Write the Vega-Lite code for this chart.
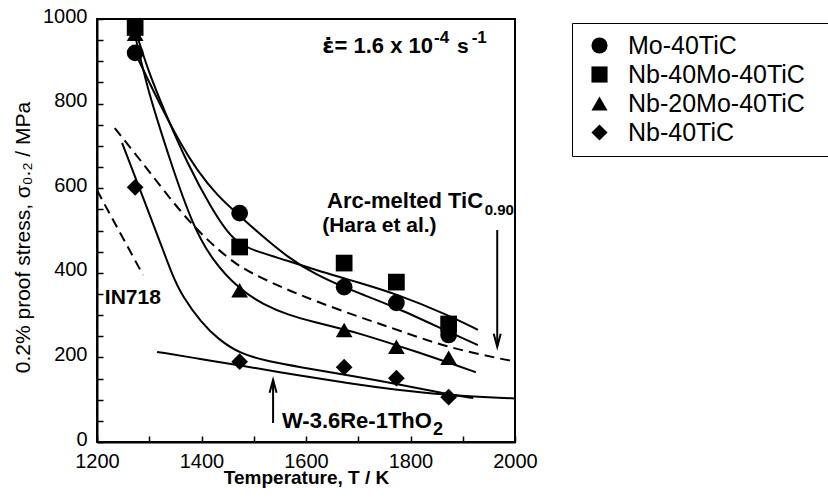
{
  "$schema": "https://vega.github.io/schema/vega-lite/v6.json",
  "autosize": {"type": "none"},
  "padding": {"left": 97, "top": 19, "right": 313, "bottom": 58},
  "width": 418,
  "height": 423,
  "background": "white",
  "config": {
    "font": "Liberation Sans",
    "view": {"stroke": "black", "strokeWidth": 2}
  },
  "datasets": {
    "points": [
      {"series": "Mo-40TiC", "x": 1273, "y": 920},
      {"series": "Mo-40TiC", "x": 1473, "y": 541},
      {"series": "Mo-40TiC", "x": 1673, "y": 366},
      {"series": "Mo-40TiC", "x": 1773, "y": 329},
      {"series": "Mo-40TiC", "x": 1873, "y": 253},
      {"series": "Nb-20Mo-40TiC", "x": 1273, "y": 965},
      {"series": "Nb-20Mo-40TiC", "x": 1473, "y": 359},
      {"series": "Nb-20Mo-40TiC", "x": 1673, "y": 265},
      {"series": "Nb-20Mo-40TiC", "x": 1773, "y": 225},
      {"series": "Nb-20Mo-40TiC", "x": 1873, "y": 199},
      {"series": "Nb-40Mo-40TiC", "x": 1273, "y": 980},
      {"series": "Nb-40Mo-40TiC", "x": 1473, "y": 461},
      {"series": "Nb-40Mo-40TiC", "x": 1673, "y": 423},
      {"series": "Nb-40Mo-40TiC", "x": 1773, "y": 378},
      {"series": "Nb-40Mo-40TiC", "x": 1873, "y": 279},
      {"series": "Nb-40TiC", "x": 1273, "y": 602},
      {"series": "Nb-40TiC", "x": 1473, "y": 190},
      {"series": "Nb-40TiC", "x": 1673, "y": 177},
      {"series": "Nb-40TiC", "x": 1773, "y": 151},
      {"series": "Nb-40TiC", "x": 1873, "y": 106}
    ],
    "curves": [
      {"curve": "Mo-40TiC", "x": 1273, "y": 920},
      {"curve": "Mo-40TiC", "x": 1300, "y": 850},
      {"curve": "Mo-40TiC", "x": 1330, "y": 775},
      {"curve": "Mo-40TiC", "x": 1360, "y": 705},
      {"curve": "Mo-40TiC", "x": 1390, "y": 645},
      {"curve": "Mo-40TiC", "x": 1430, "y": 582},
      {"curve": "Mo-40TiC", "x": 1473, "y": 535},
      {"curve": "Mo-40TiC", "x": 1502, "y": 502},
      {"curve": "Mo-40TiC", "x": 1566, "y": 435},
      {"curve": "Mo-40TiC", "x": 1620, "y": 395},
      {"curve": "Mo-40TiC", "x": 1673, "y": 366},
      {"curve": "Mo-40TiC", "x": 1703, "y": 351},
      {"curve": "Mo-40TiC", "x": 1773, "y": 318},
      {"curve": "Mo-40TiC", "x": 1873, "y": 260},
      {"curve": "Mo-40TiC", "x": 1929, "y": 229},
      {"curve": "Nb-40Mo-40TiC", "x": 1273, "y": 975},
      {"curve": "Nb-40Mo-40TiC", "x": 1300, "y": 870},
      {"curve": "Nb-40Mo-40TiC", "x": 1330, "y": 780},
      {"curve": "Nb-40Mo-40TiC", "x": 1374, "y": 655},
      {"curve": "Nb-40Mo-40TiC", "x": 1420, "y": 550},
      {"curve": "Nb-40Mo-40TiC", "x": 1450, "y": 495},
      {"curve": "Nb-40Mo-40TiC", "x": 1473, "y": 468},
      {"curve": "Nb-40Mo-40TiC", "x": 1502, "y": 452},
      {"curve": "Nb-40Mo-40TiC", "x": 1566, "y": 428},
      {"curve": "Nb-40Mo-40TiC", "x": 1620, "y": 406},
      {"curve": "Nb-40Mo-40TiC", "x": 1673, "y": 387},
      {"curve": "Nb-40Mo-40TiC", "x": 1703, "y": 376},
      {"curve": "Nb-40Mo-40TiC", "x": 1773, "y": 350},
      {"curve": "Nb-40Mo-40TiC", "x": 1873, "y": 300},
      {"curve": "Nb-40Mo-40TiC", "x": 1929, "y": 265},
      {"curve": "Nb-20Mo-40TiC", "x": 1273, "y": 960},
      {"curve": "Nb-20Mo-40TiC", "x": 1296, "y": 840},
      {"curve": "Nb-20Mo-40TiC", "x": 1312, "y": 775},
      {"curve": "Nb-20Mo-40TiC", "x": 1340, "y": 665},
      {"curve": "Nb-20Mo-40TiC", "x": 1382, "y": 515},
      {"curve": "Nb-20Mo-40TiC", "x": 1420, "y": 430},
      {"curve": "Nb-20Mo-40TiC", "x": 1473, "y": 360},
      {"curve": "Nb-20Mo-40TiC", "x": 1520, "y": 324},
      {"curve": "Nb-20Mo-40TiC", "x": 1566, "y": 300},
      {"curve": "Nb-20Mo-40TiC", "x": 1620, "y": 282},
      {"curve": "Nb-20Mo-40TiC", "x": 1673, "y": 266},
      {"curve": "Nb-20Mo-40TiC", "x": 1703, "y": 256},
      {"curve": "Nb-20Mo-40TiC", "x": 1773, "y": 229},
      {"curve": "Nb-20Mo-40TiC", "x": 1873, "y": 188},
      {"curve": "Nb-20Mo-40TiC", "x": 1925, "y": 165},
      {"curve": "Nb-40TiC", "x": 1248, "y": 707},
      {"curve": "Nb-40TiC", "x": 1282, "y": 598},
      {"curve": "Nb-40TiC", "x": 1320, "y": 475},
      {"curve": "Nb-40TiC", "x": 1344, "y": 395},
      {"curve": "Nb-40TiC", "x": 1363, "y": 345},
      {"curve": "Nb-40TiC", "x": 1400, "y": 282},
      {"curve": "Nb-40TiC", "x": 1430, "y": 245},
      {"curve": "Nb-40TiC", "x": 1474, "y": 208},
      {"curve": "Nb-40TiC", "x": 1530, "y": 190},
      {"curve": "Nb-40TiC", "x": 1589, "y": 177},
      {"curve": "Nb-40TiC", "x": 1671, "y": 160},
      {"curve": "Nb-40TiC", "x": 1773, "y": 138},
      {"curve": "Nb-40TiC", "x": 1873, "y": 112},
      {"curve": "Nb-40TiC", "x": 1920, "y": 104},
      {"curve": "W-3.6Re-1ThO2", "x": 1315, "y": 213},
      {"curve": "W-3.6Re-1ThO2", "x": 1400, "y": 196},
      {"curve": "W-3.6Re-1ThO2", "x": 1473, "y": 181},
      {"curve": "W-3.6Re-1ThO2", "x": 1589, "y": 157},
      {"curve": "W-3.6Re-1ThO2", "x": 1684, "y": 138},
      {"curve": "W-3.6Re-1ThO2", "x": 1773, "y": 123},
      {"curve": "W-3.6Re-1ThO2", "x": 1873, "y": 110},
      {"curve": "W-3.6Re-1ThO2", "x": 2000, "y": 103},
      {"curve": "Arc-melted TiC0.90", "x": 1234, "y": 742},
      {"curve": "Arc-melted TiC0.90", "x": 1300, "y": 640},
      {"curve": "Arc-melted TiC0.90", "x": 1374, "y": 520},
      {"curve": "Arc-melted TiC0.90", "x": 1455, "y": 428},
      {"curve": "Arc-melted TiC0.90", "x": 1497, "y": 398},
      {"curve": "Arc-melted TiC0.90", "x": 1560, "y": 362},
      {"curve": "Arc-melted TiC0.90", "x": 1620, "y": 332},
      {"curve": "Arc-melted TiC0.90", "x": 1703, "y": 295},
      {"curve": "Arc-melted TiC0.90", "x": 1773, "y": 266},
      {"curve": "Arc-melted TiC0.90", "x": 1873, "y": 222},
      {"curve": "Arc-melted TiC0.90", "x": 2000, "y": 190},
      {"curve": "IN718", "x": 1200, "y": 595},
      {"curve": "IN718", "x": 1288, "y": 395}
    ],
    "arrows": [
      {"arrow": "Arc", "part": "tail", "x": 1966, "y": 501},
      {"arrow": "Arc", "part": "tip", "x": 1966, "y": 225},
      {"arrow": "W", "part": "tail", "x": 1537, "y": 45},
      {"arrow": "W", "part": "tip", "x": 1537, "y": 147}
    ],
    "notes": [
      {"id": "eps", "text": "ε̇", "x": 1631, "y": 920},
      {"id": "rate", "text": "= 1.6 x 10", "x": 1843, "y": 920},
      {"id": "rate_e1", "text": "-4", "x": 1845, "y": 920},
      {"id": "rate_s", "text": "s", "x": 1889, "y": 920},
      {"id": "rate_e2", "text": "-1", "x": 1917, "y": 920},
      {"id": "arc", "text": "Arc-melted TiC", "x": 1939, "y": 553},
      {"id": "arc_sub", "text": "0.90", "x": 1942, "y": 553},
      {"id": "hara", "text": "(Hara et al.)", "x": 1631, "y": 496},
      {"id": "in718", "text": "IN718", "x": 1215, "y": 326},
      {"id": "w", "text": "W-3.6Re-1ThO", "x": 1841, "y": 33},
      {"id": "w_sub", "text": "2", "x": 1843, "y": 33}
    ]
  },
  "encoding": {
    "x": {
      "field": "x", "type": "quantitative",
      "scale": {"domain": [1200, 2000], "nice": false, "zero": false},
      "axis": {
        "title": "Temperature, T / K",
        "titleFont": "Liberation Sans", "titleFontSize": 19, "titleFontWeight": "bold", "titleColor": "black",
        "titlePadding": -3,
        "values": [1200, 1300, 1400, 1500, 1600, 1700, 1800, 1900, 2000],
        "format": "d",
        "labelExpr": "datum.value % 200 === 0 ? datum.label : ''",
        "labelFont": "Liberation Sans", "labelFontSize": 20, "labelColor": "black",
        "labelOverlap": false, "labelFlush": false,
        "labelPadding": 15,
        "grid": false,
        "domainColor": "black", "domainWidth": 2,
        "tickColor": "black", "tickWidth": 1.5,
        "tickSize": -6
      }
    },
    "y": {
      "field": "y", "type": "quantitative",
      "scale": {"domain": [0, 1000], "nice": false},
      "axis": {
        "title": "0.2% proof stress, σ₀.₂ / MPa",
        "titleFont": "Liberation Sans", "titleFontSize": 21, "titleFontWeight": "normal", "titleColor": "black",
        "titlePadding": 9,
        "titleY": 218,
        "values": [0, 50, 100, 150, 200, 250, 300, 350, 400, 450, 500, 550, 600, 650, 700, 750, 800, 850, 900, 950, 1000],
        "format": "d",
        "labelExpr": "datum.value % 200 === 0 ? datum.label : ''",
        "labelFont": "Liberation Sans", "labelFontSize": 20, "labelColor": "black",
        "labelOverlap": false, "labelFlush": false,
        "labelPadding": 16,
        "labelOffset": -3,
        "grid": false,
        "domainColor": "black", "domainWidth": 2,
        "tickColor": "black", "tickWidth": 1.5,
        "tickSize": -6
      }
    }
  },
  "layer": [
    {
      "data": {"name": "curves"},
      "transform": [{"filter": "datum.curve !== 'IN718' && datum.curve !== 'Arc-melted TiC0.90'"}],
      "mark": {"type": "line", "color": "black", "strokeWidth": 2, "interpolate": "basis"},
      "encoding": {"detail": {"field": "curve", "type": "nominal"}}
    },
    {
      "data": {"name": "curves"},
      "transform": [{"filter": "datum.curve === 'IN718' || datum.curve === 'Arc-melted TiC0.90'"}],
      "mark": {"type": "line", "color": "black", "strokeWidth": 2, "strokeDash": [10, 6], "interpolate": "basis"},
      "encoding": {"detail": {"field": "curve", "type": "nominal"}}
    },
    {
      "data": {"name": "arrows"},
      "mark": {"type": "line", "color": "black", "strokeWidth": 2},
      "encoding": {"detail": {"field": "arrow", "type": "nominal"}}
    },
    {
      "data": {"name": "arrows"},
      "transform": [{"filter": "datum.arrow === 'Arc' && datum.part === 'tip'"}],
      "mark": {"type": "point", "shape": "M-0.7,-2.6L0,0L0.7,-2.6", "size": 100, "filled": false, "stroke": "black", "strokeWidth": 2, "opacity": 1}
    },
    {
      "data": {"name": "arrows"},
      "transform": [{"filter": "datum.arrow === 'W' && datum.part === 'tip'"}],
      "mark": {"type": "point", "shape": "M-0.7,2.6L0,0L0.7,2.6", "size": 100, "filled": false, "stroke": "black", "strokeWidth": 2, "opacity": 1}
    },
    {
      "data": {"name": "points"},
      "mark": {"type": "point", "filled": true, "color": "black", "opacity": 1, "size": 280},
      "encoding": {
        "shape": {
          "field": "series", "type": "nominal",
          "scale": {
            "domain": ["Mo-40TiC", "Nb-40Mo-40TiC", "Nb-20Mo-40TiC", "Nb-40TiC"],
            "range": ["circle", "square", "triangle-up", "diamond"]
          },
          "legend": {
            "title": null,
            "orient": "none", "legendX": 475, "legendY": 4,
            "padding": 10, "symbolOffset": 5,
            "strokeColor": "black", "fillColor": "white",
            "labelFont": "Liberation Sans", "labelFontSize": 25, "labelColor": "black",
            "labelOffset": 16, "labelLimit": 500,
            "labelExpr": "datum.label + '⠀'",
            "rowPadding": 3,
            "symbolSize": 260, "symbolFillColor": "black", "symbolStrokeColor": "black", "symbolStrokeWidth": 0, "symbolOpacity": 1
          }
        }
      }
    },
    {
      "data": {"name": "notes"},
      "transform": [{"filter": "datum.id === 'eps'"}],
      "mark": {"type": "text", "align": "left", "baseline": "alphabetic", "fontSize": 22, "fontWeight": "bold", "font": "DejaVu Sans", "color": "black"},
      "encoding": {"text": {"field": "text", "type": "nominal"}}
    },
    {
      "data": {"name": "notes"},
      "transform": [{"filter": "datum.id === 'rate' || datum.id === 'arc' || datum.id === 'w'"}],
      "mark": {"type": "text", "align": "right", "baseline": "alphabetic", "fontSize": 22, "fontWeight": "bold", "font": "Liberation Sans", "color": "black"},
      "encoding": {"text": {"field": "text", "type": "nominal"}}
    },
    {
      "data": {"name": "notes"},
      "transform": [{"filter": "datum.id === 'rate_s' || datum.id === 'hara' || datum.id === 'in718'"}],
      "mark": {"type": "text", "align": "left", "baseline": "alphabetic", "fontSize": 21, "fontWeight": "bold", "font": "Liberation Sans", "color": "black"},
      "encoding": {"text": {"field": "text", "type": "nominal"}}
    },
    {
      "data": {"name": "notes"},
      "transform": [{"filter": "datum.id === 'rate_e1' || datum.id === 'rate_e2'"}],
      "mark": {"type": "text", "align": "left", "baseline": "alphabetic", "dy": -10, "fontSize": 17, "fontWeight": "bold", "font": "Liberation Sans", "color": "black"},
      "encoding": {"text": {"field": "text", "type": "nominal"}}
    },
    {
      "data": {"name": "notes"},
      "transform": [{"filter": "datum.id === 'arc_sub'"}],
      "mark": {"type": "text", "align": "left", "baseline": "alphabetic", "dy": 7, "fontSize": 15, "fontWeight": "bold", "font": "Liberation Sans", "color": "black"},
      "encoding": {"text": {"field": "text", "type": "nominal"}}
    },
    {
      "data": {"name": "notes"},
      "transform": [{"filter": "datum.id === 'w_sub'"}],
      "mark": {"type": "text", "align": "left", "baseline": "alphabetic", "dy": 7, "fontSize": 18, "fontWeight": "bold", "font": "Liberation Sans", "color": "black"},
      "encoding": {"text": {"field": "text", "type": "nominal"}}
    }
  ]
}
